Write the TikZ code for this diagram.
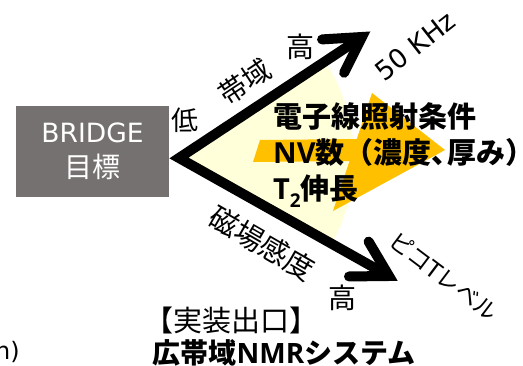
\documentclass[tikz,border=0pt]{standalone}
\usepackage{fontspec}
\setmainfont{Noto Sans CJK JP}
\newfontfamily\latr{DejaVu Sans}
\newfontfamily\latb{Open Sans}
\usetikzlibrary{calc}
\definecolor{boxgray}{HTML}{767171}
\definecolor{fanyellow}{HTML}{FFFFDA}
\definecolor{blockorange}{HTML}{FFC000}
\begin{document}
\begin{tikzpicture}[x=1pt,y=1pt,
  lbl/.style={inner sep=0pt, font=\fontsize{28}{28}\selectfont},
  boldlbl/.style={inner sep=0pt, font=\bfseries\fontsize{29}{36}\selectfont},
  arrowline/.style={line width=10pt, line cap=round, line join=miter},
]
\useasboundingbox (0,0) rectangle (523,366);
\clip (0,0) rectangle (523,366);
% key points
\coordinate (V) at (179,208);
\coordinate (U) at (362,329);
\coordinate (L) at (389,90);
% pale fan
\fill[fanyellow] (V) -- ++(33.47:175) arc[start angle=33.47, end angle=-29.3, radius=175] -- cycle;
% orange block arrow
\fill[blockorange] (260,226) -- (356.8,227) -- (372,273) -- (445,216) -- (333,155) -- (349.5,205) -- (253,204) -- cycle;
% goal box
\node[fill=boxgray, minimum width=153pt, minimum height=91pt, inner sep=0pt, text=white, align=center,
      font=\fontsize{28}{35}\selectfont] (goal) at (92.5,214.5) {{\latr\fontsize{26.5}{35}\selectfont BRIDGE}\\目標};
% arrows
\draw[arrowline] (U) -- (V) -- (L);
\draw[arrowline] ($(U)!40pt!30:(V)$) -- (U) -- ($(U)!40pt!-30:(V)$);
\draw[arrowline] ($(L)!40pt!30:(V)$) -- (L) -- ($(L)!40pt!-30:(V)$);
% labels
\node[lbl, font=\fontsize{27}{27}\selectfont] (low) at (185,246) {低};
\node[lbl, rotate=33.5] (band) at (245,284) {帯域};
\node[lbl] (high1) at (300,319) {高};
\node[lbl, font=\latr\fontsize{26.5}{26.5}\selectfont, rotate=38] (khz) at (415,320) {50 KHz};
\node[lbl, font=\fontsize{29}{29}\selectfont, rotate=-30] (sens) at (262,123) {磁場感度};
\node[lbl, font=\fontsize{23}{23}\selectfont, rotate=-37] (pico) at (444,90) {ピコ{\latr T}レベル};
\node[lbl] (high2) at (342,68) {高};
\node[boldlbl, align=left, anchor=west] (cond) at (273,211)
  {電子線照射条件\\{\latb NV}数（濃度\makebox[0.55em][l]{、}厚み\makebox[0.5em][l]{）}\\{\latb T\raisebox{-0.25em}{\fontsize{19}{19}\selectfont 2}}伸長};
\node[lbl, font=\fontsize{29}{29}\selectfont] (exit) at (231,46) {【実装出口】};
\node[boldlbl, font=\bfseries\fontsize{28}{28}\selectfont] (nmr) at (284,13) {広帯域{\latb NMR}システム};
\node[lbl, font=\latr\fontsize{24}{24}\selectfont, anchor=east] (cut) at (20,14) {n)};
\end{tikzpicture}
\end{document}
